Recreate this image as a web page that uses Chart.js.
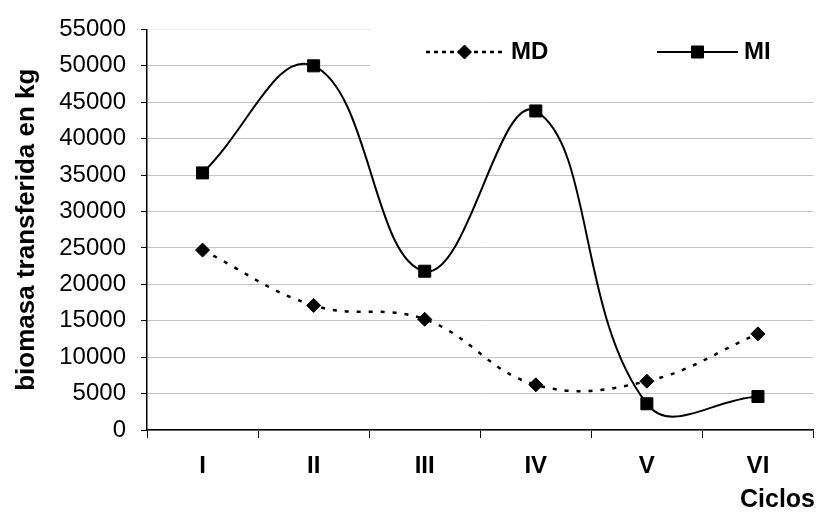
<!DOCTYPE html>
<html>
<head>
<meta charset="utf-8">
<script src="https://cdn.jsdelivr.net/npm/chart.js@4/dist/chart.umd.min.js"></script>
<style>
  html, body { margin: 0; padding: 0; background: #fff; overflow: hidden; }
  #wrap { width: 823px; height: 515px; position: relative; }
  canvas { display: block; }
</style>
</head>
<body>
<div id="wrap"><canvas id="c" width="823" height="515"></canvas></div>
<script>
// Ciclos de cosecha y biomasa transferida (kg)
const categories = ['I', 'II', 'III', 'IV', 'V', 'VI'];
const mdValues = [24700, 17100, 15200, 6200, 6700, 13200];
const miValues = [35300, 50000, 21800, 43800, 3600, 4600];
const yMin = 0;
const yMax = 55000;
const yStep = 5000;

const FONT = "'Liberation Sans', Arial, Helvetica, sans-serif";

// Leyenda en recuadro blanco, con línea y marcador de cada serie
const boxLegend = {
  id: 'boxLegend',
  beforeDatasetsDraw(chart) {
    const ctx = chart.ctx;
    ctx.save();
    ctx.fillStyle = '#ffffff';
    ctx.fillRect(370, 16, 460, 76);
    ctx.restore();
  },
  afterDraw(chart) {
    const ctx = chart.ctx;
    const items = [
      { ds: chart.data.datasets[0], x0: 426, x1: 503, tx: 511, dash: [4, 4] },
      { ds: chart.data.datasets[1], x0: 657, x1: 738, tx: 744, dash: [] }
    ];
    const y = 52;
    ctx.save();
    items.forEach(it => {
      ctx.strokeStyle = '#000';
      ctx.lineWidth = it.ds.borderWidth;
      ctx.setLineDash(it.dash);
      ctx.beginPath();
      ctx.moveTo(it.x0, y);
      ctx.lineTo(it.x1, y);
      ctx.stroke();
      ctx.setLineDash([]);
      ctx.fillStyle = '#000';
      ctx.lineWidth = 1;
      Chart.helpers.drawPoint(ctx, {
        pointStyle: it.ds.pointStyle,
        radius: it.ds.pointRadius,
        rotation: 0,
        borderWidth: 1
      }, (it.x0 + it.x1) / 2, y);
      ctx.font = 'bold 24px ' + FONT;
      ctx.textBaseline = 'middle';
      ctx.textAlign = 'left';
      ctx.fillText(it.ds.label, it.tx, y);
    });
    // Título del eje X, alineado a la derecha
    ctx.font = 'bold 25px ' + FONT;
    ctx.textAlign = 'right';
    ctx.textBaseline = 'middle';
    ctx.fillText('Ciclos', 815, 500);
    ctx.restore();
  }
};

new Chart(document.getElementById('c'), {
  type: 'line',
  data: {
    labels: categories,
    datasets: [
      {
        label: 'MD',
        data: mdValues,
        borderColor: '#000',
        backgroundColor: '#000',
        borderWidth: 2.5,
        borderDash: [4, 8],
        tension: 0.4,
        pointStyle: 'rectRot',
        pointRadius: 7,
        pointBorderWidth: 1,
        pointBackgroundColor: '#000',
        pointBorderColor: '#000',
        fill: false
      },
      {
        label: 'MI',
        data: miValues,
        borderColor: '#000',
        backgroundColor: '#000',
        borderWidth: 2,
        tension: 0.42,
        capBezierPoints: false,
        pointStyle: 'rect',
        pointRadius: 8.5,
        pointBorderWidth: 1,
        pointBackgroundColor: '#000',
        pointBorderColor: '#000',
        fill: false
      }
    ]
  },
  options: {
    responsive: false,
    animation: false,
    devicePixelRatio: 1,
    layout: { padding: { top: 23, left: 0, right: 0, bottom: 0 } },
    plugins: {
      legend: { display: false },
      tooltip: { enabled: false }
    },
    scales: {
      x: {
        type: 'category',
        offset: true,
        afterFit(s) { s.height = 85; },
        grid: {
          offset: true,
          drawOnChartArea: false,
          drawTicks: true,
          tickLength: 8,
          tickColor: '#000',
          color: '#000'
        },
        border: { display: true, color: '#000', width: 1.5 },
        ticks: {
          color: '#000',
          padding: 14,
          maxRotation: 0,
          autoSkip: false,
          font: { family: FONT, size: 24, weight: 'bold' }
        }
      },
      y: {
        min: yMin,
        max: yMax,
        afterFit(s) { s.width = 147; },
        grid: {
          color: ctx => (ctx.tick && ctx.tick.value === yMax) ? '#eeeeee' : '#c4c4c4',
          lineWidth: 1,
          drawTicks: true,
          tickLength: 6,
          tickColor: '#000'
        },
        border: { display: true, color: '#000', width: 1.5 },
        ticks: {
          stepSize: yStep,
          color: '#000',
          padding: 15,
          autoSkip: false,
          font: { family: FONT, size: 24 },
          callback: v => String(v)
        },
        title: {
          display: true,
          text: 'biomasa transferida en kg',
          color: '#000',
          padding: { top: 11, bottom: 0 },
          font: { family: FONT, size: 26, weight: 'bold' }
        }
      }
    }
  },
  plugins: [boxLegend]
});
</script>
</body>
</html>
